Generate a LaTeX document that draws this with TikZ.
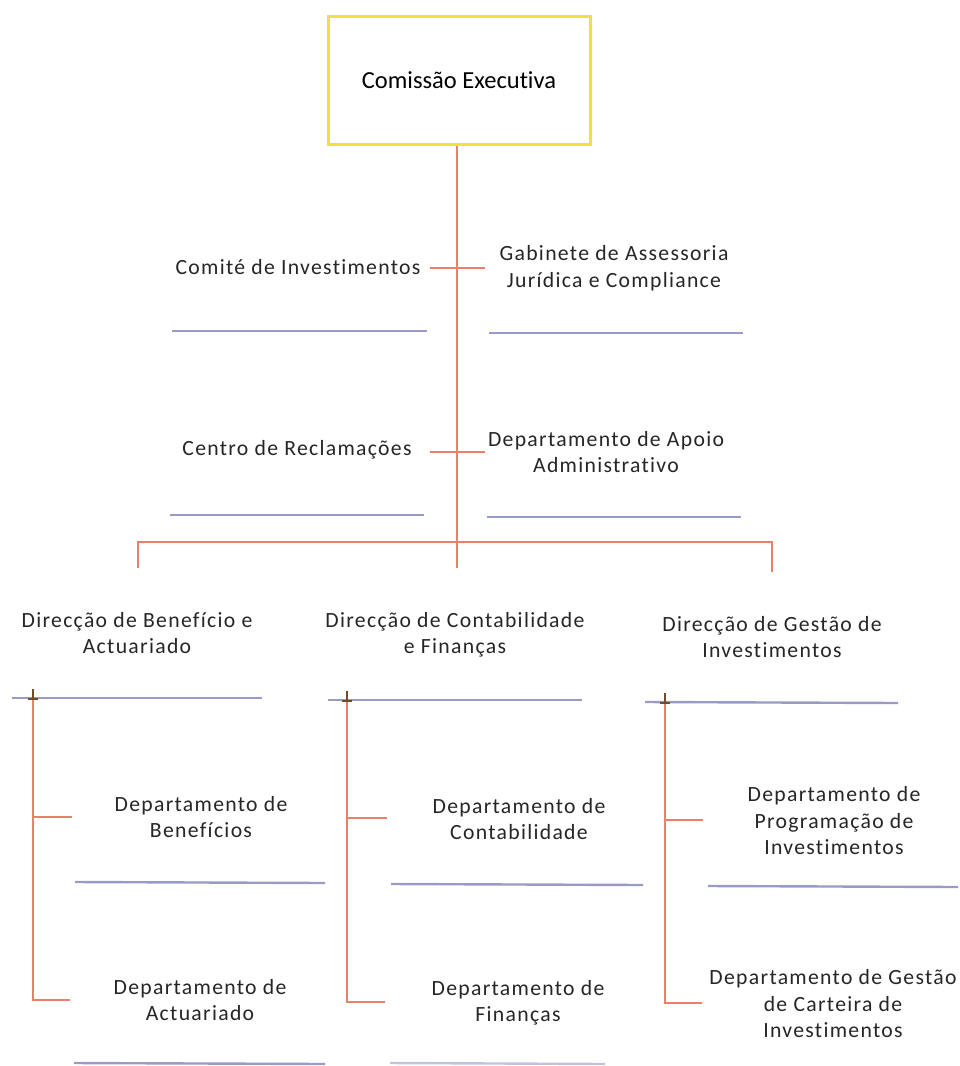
\documentclass[tikz,border=0pt]{standalone}
\usepackage{fontspec}
\setmainfont{Carlito}[Ligatures=NoCommon]
\newfontfamily\spaced[LetterSpace=6,Ligatures=NoCommon]{Carlito}
\definecolor{connc}{RGB}{232,128,106}
\definecolor{ulc}{RGB}{152,156,196}
\definecolor{boxc}{RGB}{240,226,60}
\begin{document}
\begin{tikzpicture}[x=1pt,y=-1pt,
  conn/.style={draw=connc, line width=1.6pt},
  uline/.style={draw=ulc, line width=2.4pt},
  lbl/.style={align=center, font=\spaced\fontsize{21.7}{26.5}\selectfont, text=black!85, inner sep=0pt},
  topbox/.style={draw=boxc, line width=3pt, fill=white, minimum width=262pt, minimum height=128pt, font=\fontsize{24.5}{28}\selectfont, inner sep=0pt}]
\useasboundingbox (0,0) rectangle (960,1066);
\fill[white] (0,0) rectangle (960,1066);

% top box
\node[topbox] (ce) at (459,80) {Comissão Executiva};

% labels
\node[lbl] (ci) at (298,267) {Comité de Investimentos};
\node[lbl] (ga) at (614,268) {Gabinete de Assessoria\\Jurídica e Compliance};
\node[lbl] (cr) at (297,450) {Centro de Reclamações};
\node[lbl] (da) at (606,452) {Departamento de Apoio\\Administrativo};

\node[lbl] (d1) at (137,633) {Direcção de Benefício e\\Actuariado};
\node[lbl] (d2) at (455,635) {Direcção de Contabilidade\\e Finanças};
\node[lbl] (d3) at (772,637) {Direcção de Gestão de\\Investimentos};

\node[lbl] (p1) at (201,817) {Departamento de\\Benefícios};
\node[lbl] (p2) at (519,819) {Departamento de\\Contabilidade};
\node[lbl] (p3) at (834,821) {Departamento de\\Programação de\\Investimentos};
\node[lbl] (p4) at (200,1000) {Departamento de\\Actuariado};
\node[lbl] (p5) at (518,1003) {Departamento de\\Finanças};
\node[lbl] (p6) at (833,1004) {Departamento de Gestão\\de Carteira de\\Investimentos};

% coordinates
\coordinate (top) at (457,145);
\coordinate (bus) at (457,542);
\coordinate (busl) at (138,542);
\coordinate (busr) at (772,542);
\coordinate (dl) at (138,568);
\coordinate (dm) at (457,568);
\coordinate (dr) at (772,572);

% main spine
\draw[conn] (ce.south -| top) -- (bus) -- (dm);
\draw[conn] (430,268) -- (485,268);
\draw[conn] (430,452) -- (485,452);
\draw[conn] (dl) -- (busl) -- (busr) -- (dr);

% underlines
\draw[uline] (172,331) -- (427,331);
\draw[uline] (489,333) -- (743,333);
\draw[uline] (170,515) -- (424,515);
\draw[uline] (487,517) -- (741,517);

\draw[uline] (12,698) -- (262,698);
\draw[uline] (328,700) -- (582,700);
\draw[uline] (645,702) -- (898,703);

\draw[uline] (75,882) -- (325,883);
\draw[uline] (391,884) -- (643,885);
\draw[uline] (708,886) -- (958,887);

\draw[uline] (74,1063) -- (325,1064);
\draw[uline, draw opacity=0.6] (390,1063) -- (605,1064);

% branch lines
\coordinate (b1t) at (33,699);
\coordinate (b1a) at (33,817);
\coordinate (b1b) at (33,1000);
\draw[conn] (b1t) -- (b1b) -- (70,1000);
\draw[conn] (b1a) -- (72,817);
\coordinate (b2t) at (347,701);
\coordinate (b2a) at (347,818);
\coordinate (b2b) at (347,1002);
\draw[conn] (b2t) -- (b2b) -- (385,1002);
\draw[conn] (b2a) -- (387,818);
\coordinate (b3t) at (665,703);
\coordinate (b3a) at (665,820);
\coordinate (b3b) at (665,1003);
\draw[conn] (b3t) -- (b3b) -- (702,1003);
\draw[conn] (b3a) -- (703,820);

% small dark T marks
\foreach \p in {b1t,b2t,b3t} {
  \draw[brown!60!black, line width=1.5pt] ([xshift=-5pt]\p) -- ([xshift=5pt]\p);
  \draw[brown!60!black, line width=1.8pt] (\p) -- ([yshift=10pt]\p);
}
\end{tikzpicture}
\end{document}
